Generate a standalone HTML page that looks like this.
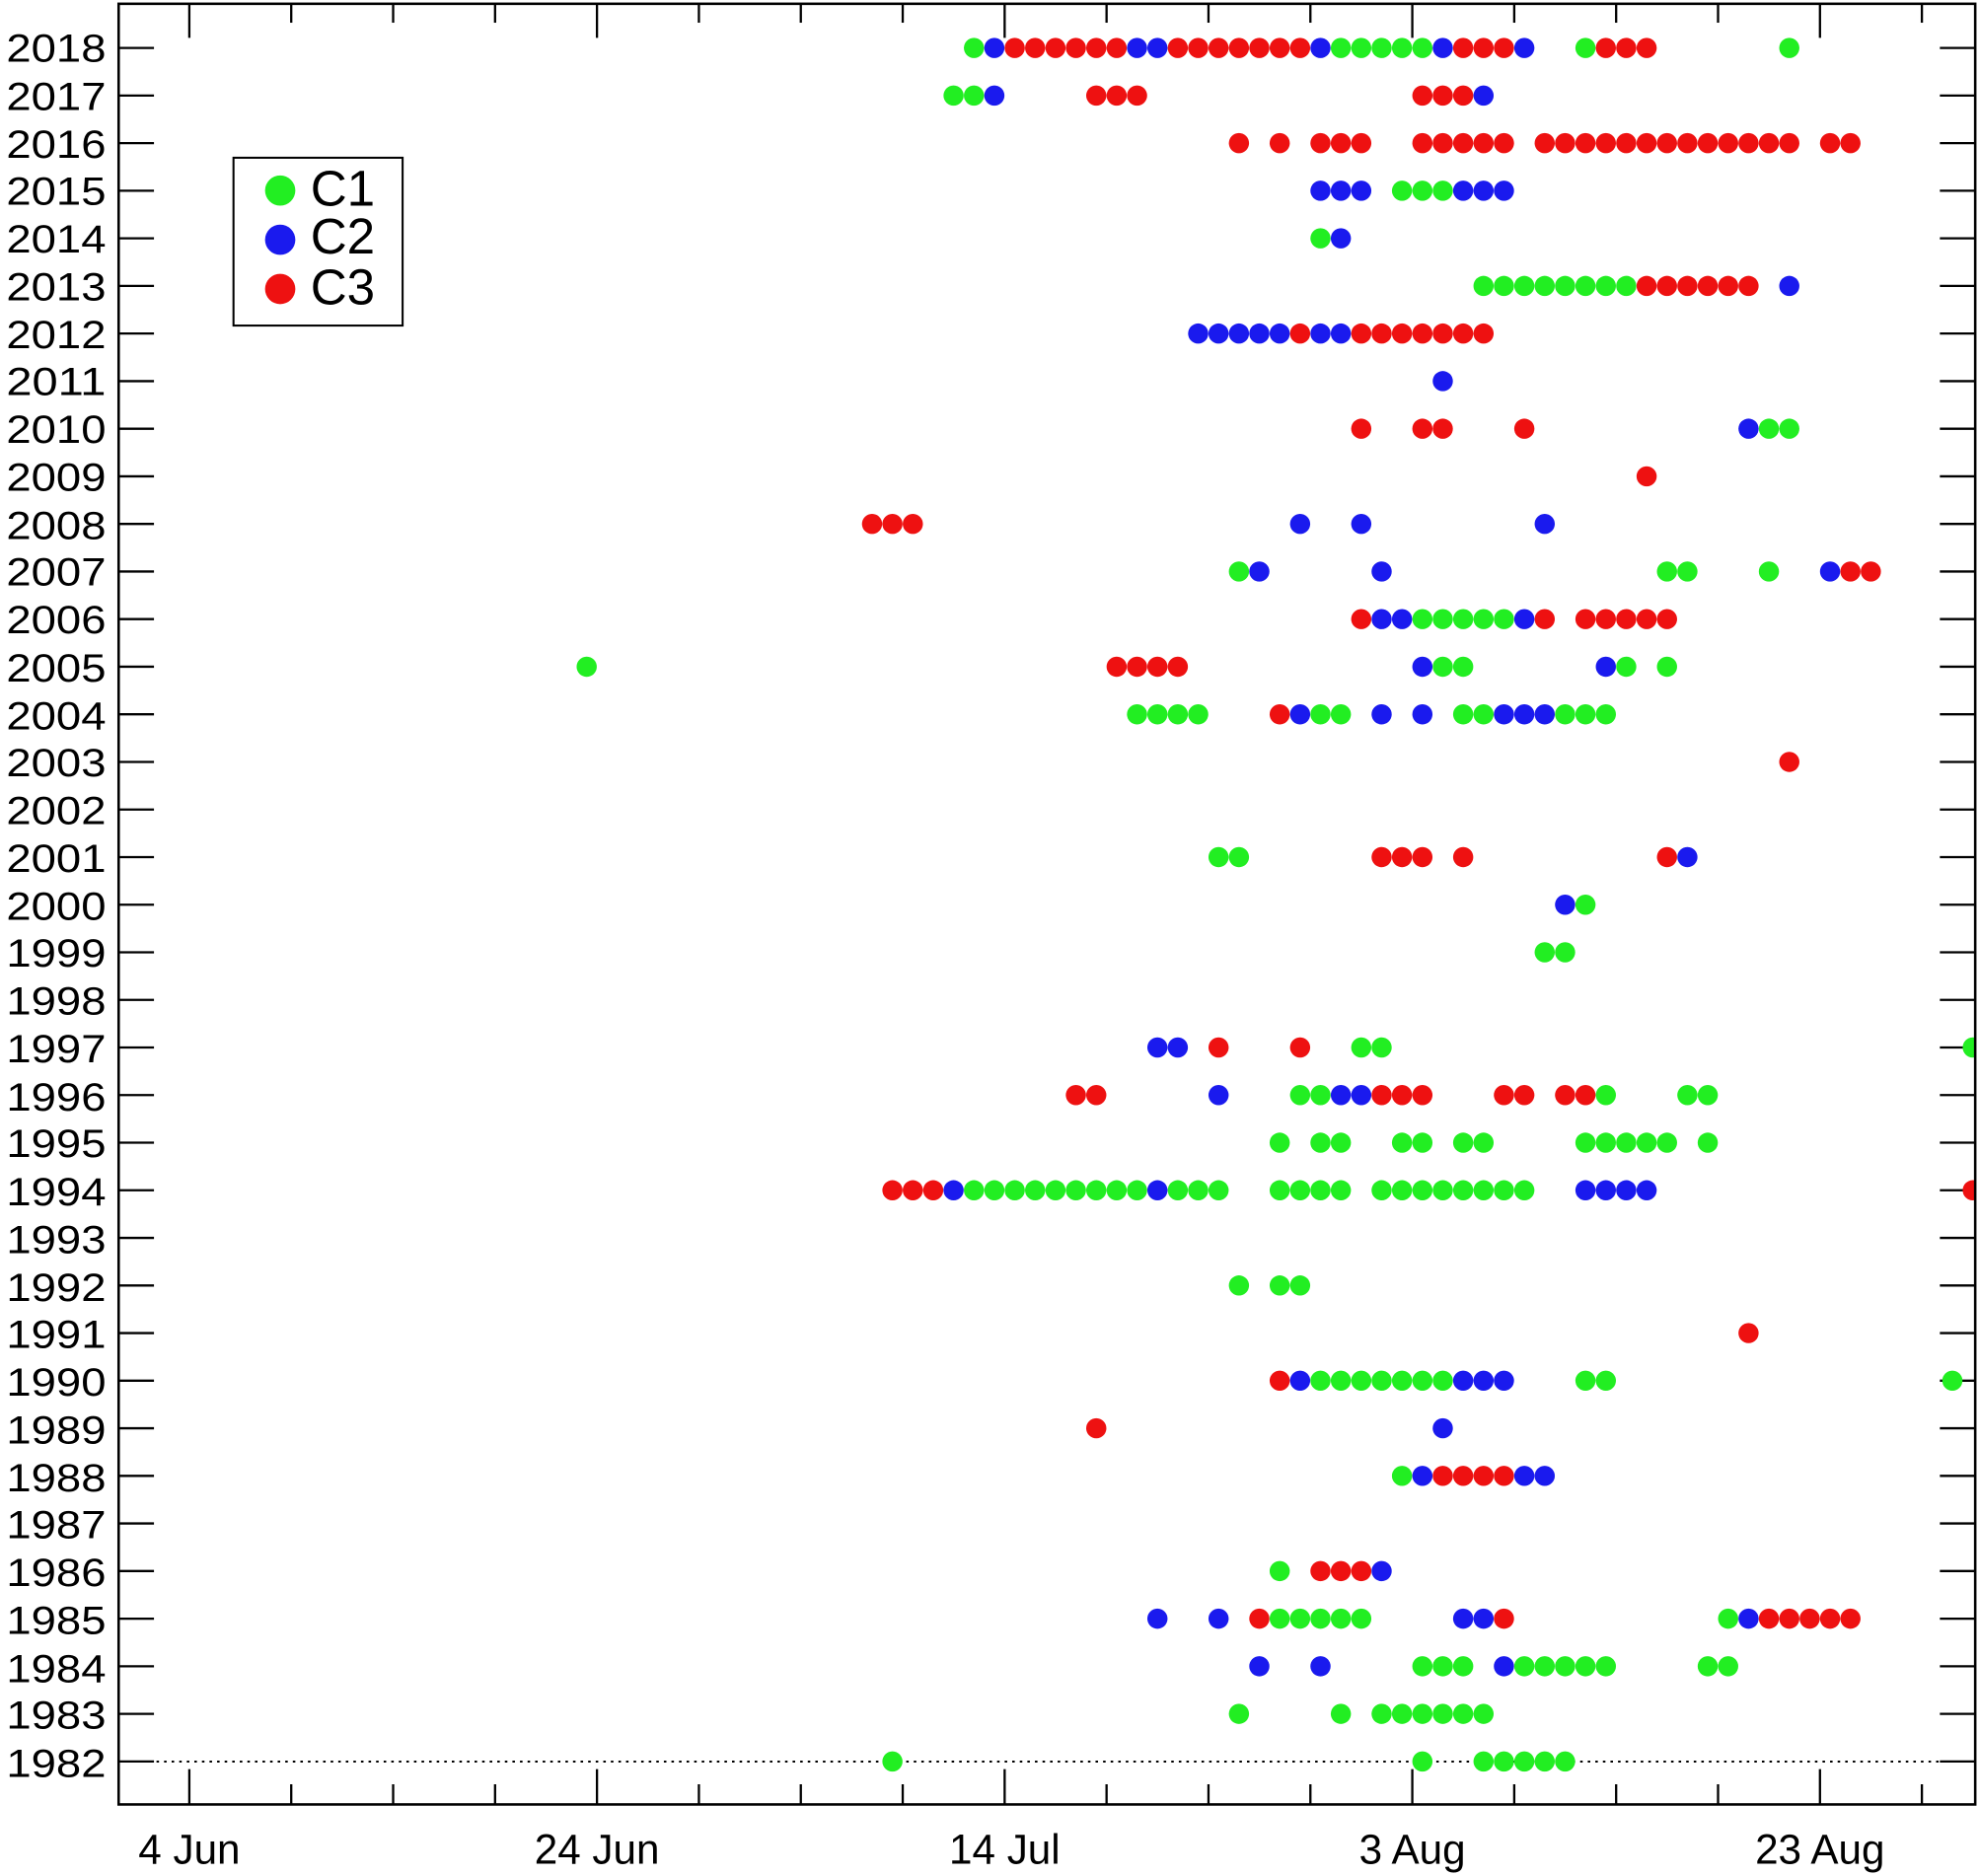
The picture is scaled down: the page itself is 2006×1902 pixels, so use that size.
<!DOCTYPE html>
<html><head><meta charset="utf-8"><style>
html,body{margin:0;padding:0;background:#fff;}
svg{display:block;}
text{font-family:"Liberation Sans",sans-serif;fill:#000;}
</style></head><body>
<svg id="s" width="2006" height="1902" viewBox="0 0 1568 1486.7" preserveAspectRatio="none" xmlns="http://www.w3.org/2000/svg">
<defs><clipPath id="c"><rect x="94" y="3" width="1471" height="1427"/></clipPath></defs>
<rect x="0" y="0" width="1568" height="1487" fill="#fff"/>
<g id="ticks" stroke="#000" stroke-width="1.8"></g>
<line x1="94" y1="1396" x2="1565" y2="1396" stroke="#000" stroke-width="1.6" stroke-dasharray="2,4"/>
<g id="dots" clip-path="url(#c)"></g>
<rect x="94" y="3" width="1471" height="1427" fill="none" stroke="#000" stroke-width="2"/>
<g id="yl" font-size="31" text-anchor="end">
<text x="84" y="49">2018</text><text x="84" y="87">2017</text><text x="84" y="125">2016</text><text x="84" y="162">2015</text><text x="84" y="200">2014</text><text x="84" y="238">2013</text><text x="84" y="276">2012</text><text x="84" y="313">2011</text><text x="84" y="351">2010</text><text x="84" y="389">2009</text><text x="84" y="427">2008</text><text x="84" y="464">2007</text><text x="84" y="502">2006</text><text x="84" y="540">2005</text><text x="84" y="578">2004</text><text x="84" y="615">2003</text><text x="84" y="653">2002</text><text x="84" y="691">2001</text><text x="84" y="729">2000</text><text x="84" y="766">1999</text><text x="84" y="804">1998</text><text x="84" y="842">1997</text><text x="84" y="880">1996</text><text x="84" y="917">1995</text><text x="84" y="955">1994</text><text x="84" y="993">1993</text><text x="84" y="1031">1992</text><text x="84" y="1068">1991</text><text x="84" y="1106">1990</text><text x="84" y="1144">1989</text><text x="84" y="1182">1988</text><text x="84" y="1219">1987</text><text x="84" y="1257">1986</text><text x="84" y="1295">1985</text><text x="84" y="1333">1984</text><text x="84" y="1370">1983</text><text x="84" y="1408">1982</text>
</g>
<g font-size="33" text-anchor="middle">
<text x="150" y="1477">4 Jun</text><text x="473" y="1477">24 Jun</text><text x="796" y="1477">14 Jul</text><text x="1119" y="1477">3 Aug</text><text x="1442" y="1477">23 Aug</text>
</g>
<rect x="185" y="125" width="134" height="133" fill="#fff" stroke="#000" stroke-width="1.6"/>
<circle cx="222" cy="151" r="12" fill="#22ee22"/><circle cx="222" cy="190" r="12" fill="#1a1aee"/><circle cx="222" cy="229" r="12" fill="#ee1111"/>
<g font-size="40"><text x="246" y="163">C1</text><text x="246" y="201">C2</text><text x="246" y="241">C3</text></g>
</svg>
<script>
var ns="http://www.w3.org/2000/svg";
function el(p,t,a){var e=document.createElementNS(ns,t);for(var k in a)e.setAttribute(k,a[k]);p.appendChild(e);return e;}
document.querySelectorAll("#yl text").forEach(function(t){t.setAttribute("textLength","79");t.setAttribute("lengthAdjust","spacingAndGlyphs");});
var T=document.getElementById("ticks");
for(var i=0;i<=17;i++){var x=150+80.75*i;if(x>1565)break;var maj=(i%4==0);
el(T,"line",{x1:x,y1:3,x2:x,y2:maj?30:18});el(T,"line",{x1:x,y1:1430,x2:x,y2:maj?1402:1414});}
for(var j=0;j<37;j++){var y=38+j*37.72;el(T,"line",{x1:94,y1:y,x2:122,y2:y});el(T,"line",{x1:1537,y1:y,x2:1565,y2:y});}
var D={
2018:"g38 b39 r40-45 b46-47 r48-54 b55 g56-60 b61 r62-64 b65 g68 r69-71 g78",
2017:"g37-38 b39 r44-46 r60-62 b63",
2016:"r51 r53 r55-57 r60-64 r66-78 r80-81",
2015:"b55-57 g59-61 b62-64",
2014:"g55 b56",
2013:"g63-70 r71-76 b78",
2012:"b49-53 r54 b55-56 r57-63",
2011:"b61",
2010:"r57 r60-61 r65 b76 g77-78",
2009:"r71",
2008:"r33-35 b54 b57 b66",
2007:"g51 b52 b58 g72-73 g77 b80 r81-82",
2006:"r57 b58-59 g60-64 b65 r66 r68-72",
2005:"g19 r45-48 b60 g61-62 b69 g70 g72",
2004:"g46-49 r53 b54 g55-56 b58 b60 g62-63 b64-66 g67-69",
2003:"r78",2002:"",
2001:"g50-51 r58-60 r62 r72 b73",
2000:"b67 g68",1999:"g66-67",1998:"",
1997:"b47-48 r50 r54 g57-58 g87",
1996:"r43-44 b50 g54-55 b56-57 r58-60 r64-65 r67-68 g69 g73-74",
1995:"g53 g55-56 g59-60 g62-63 g68-72 g74",
1994:"r34-36 b37 g38-46 b47 g48-50 g53-56 g58-65 b68-71 r87",
1993:"",1992:"g51 g53-54",1991:"r76",
1990:"r53 b54 g55-61 b62-64 g68-69 g86",
1989:"r44 b61",
1988:"g59 b60 r61-64 b65-66",
1987:"",
1986:"g53 r55-57 b58",
1985:"b47 b50 r52 g53-57 b62-63 r64 g75 b76 r77-81",
1984:"b52 b55 g60-62 b64 g65-69 g74-75",
1983:"g51 g56 g58-63",
1982:"g34 g60 g63-67"};
var C={g:"#22ee22",b:"#1a1aee",r:"#ee1111"};
var G=document.getElementById("dots");
for(var yr in D){var y=38+(2018-yr)*37.72;D[yr].split(" ").forEach(function(tk){if(!tk)return;var c=C[tk[0]];var p=tk.slice(1).split("-");var a=+p[0],b=p.length>1?+p[1]:a;for(var k=a;k<=b;k++){el(G,"circle",{cx:158+16.15*k,cy:y,r:8,fill:c});}});}
</script>
</body></html>
